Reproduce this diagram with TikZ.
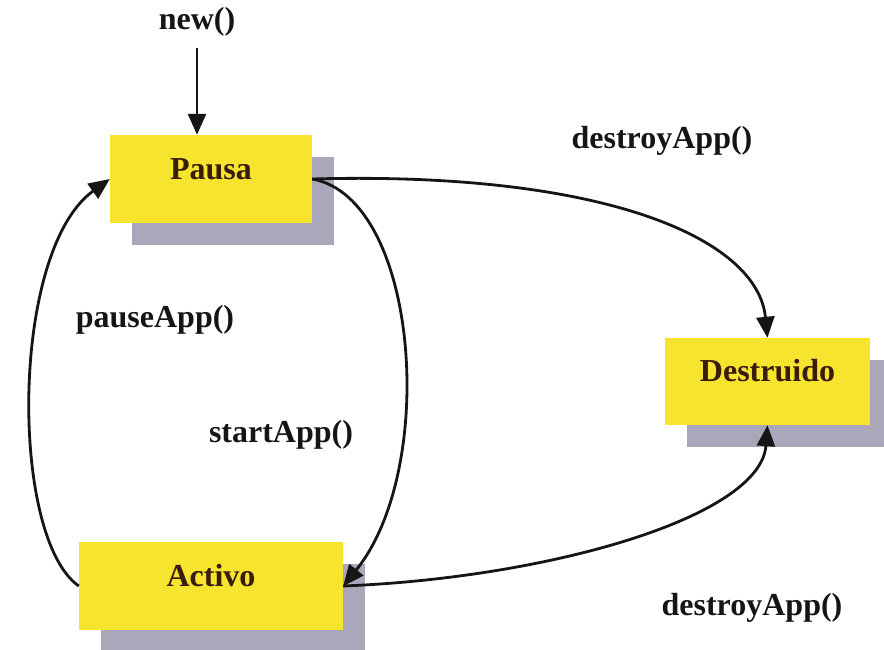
\documentclass[tikz,border=0pt]{standalone}
\usepackage{fontspec}
\setmainfont{Liberation Serif}
\usetikzlibrary{arrows.meta,shadows}

\definecolor{boxyellow}{HTML}{F6E42E}
\definecolor{shadowgrey}{HTML}{ABA7BA}
\definecolor{boxtext}{HTML}{3A1C0C}
\definecolor{linecol}{HTML}{151515}

\tikzset{
  statebox/.style={rectangle, fill=boxyellow, inner sep=0pt,
    minimum height=88pt,
    drop shadow={shadow xshift=22pt, shadow yshift=-22pt, fill=shadowgrey, opacity=1}},
  statetext/.style={anchor=base, text=boxtext, font=\fontsize{32}{32}\selectfont\bfseries, inner sep=0pt},
  calltext/.style={anchor=base, text=linecol, font=\fontsize{32}{32}\selectfont\bfseries, inner sep=0pt},
  transition/.style={draw=linecol, line width=2.8pt,
    -{Triangle[length=21pt,width=18pt]}},
}

\begin{document}
\begin{tikzpicture}[x=1pt, y=-1pt]
  \useasboundingbox (0,0) rectangle (884,650);

  % states
  \node[statebox, minimum width=202pt] (pausa) at (211,179) {};
  \node[statebox, minimum width=205pt, minimum height=87pt] (destruido) at (767.5,381.5) {};
  \node[statebox, minimum width=264pt] (activo) at (211,586) {};

  \node[statetext] (pausaT) at (pausa.center) {Pausa};
  \node[statetext] (destruidoT) at (destruido.center) {Destruido};
  \node[statetext] (activoT) at (activo.center) {Activo};

  % method labels
  \node[calltext] (newT) at (197,30) {new()};
  \node[calltext] (destroyA) at (662,149) {destroyApp()};
  \node[calltext] (pauseT) at (155,327) {pauseApp()};
  \node[calltext] (startT) at (281,442) {startApp()};
  \node[calltext] (destroyB) at (752,615) {destroyApp()};

  % transitions
  \coordinate (newstart) at (197,48);
  \draw[transition] (newstart) -- ([xshift=-14pt]pausa.north);
  \draw[transition] (pausa.east) .. controls +(290,-8) and +(-10,-100) .. (destruido.north);
  \draw[transition] (pausa.east) .. controls +(107,19) and +(95,-117) .. (activo.east);
  \draw[transition] (activo.east) .. controls +(205,-8) and +(-7,92) .. (destruido.south);
  \draw[transition] (activo.west) .. controls +(-69,-48) and +(-100,72) .. (pausa.west);
\end{tikzpicture}
\end{document}
